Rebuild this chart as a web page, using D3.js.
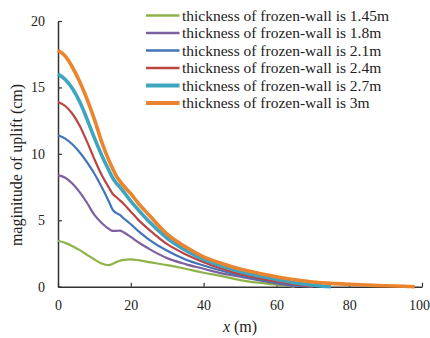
<!DOCTYPE html>
<html>
<head>
<meta charset="utf-8">
<script src="https://cdn.jsdelivr.net/npm/d3@7"></script>
<style>
  body { margin: 0; background: #fff; }
</style>
</head>
<body>
<script>
// x positions (m) shared by all series
var xs = [0, 2, 4, 6, 8, 10, 12, 14, 15, 16, 17, 18, 20, 22, 25, 30, 35, 40, 45, 50, 55, 60, 65, 70, 75, 80, 85, 90, 95, 98];

var names = ["thickness of frozen-wall is 1.45m", "thickness of frozen-wall is 1.8m",
  "thickness of frozen-wall is 2.1m", "thickness of frozen-wall is 2.4m",
  "thickness of frozen-wall is 2.7m", "thickness of frozen-wall is 3m"];

// uplift (cm), null = curve already ended
var w145 = [3.46, 3.3, 3.05, 2.75, 2.4, 2.05, 1.75, 1.63, 1.72, 1.85, 1.95, 2.02, 2.05, 2.0, 1.85, 1.62, 1.35, 1.05, 0.8, 0.5, 0.3, 0.15, 0.0, null, null, null, null, null, null, null];
var w18 = [8.4, 8.2, 7.75, 7.1, 6.3, 5.4, 4.8, 4.35, 4.2, 4.2, 4.22, 4.1, 3.75, 3.35, 2.85, 2.15, 1.7, 1.35, 1.0, 0.75, 0.5, 0.25, 0.0, null, null, null, null, null, null, null];
var w21 = [11.4, 11.15, 10.7, 10.1, 9.35, 8.5, 7.5, 6.4, 5.8, 5.55, 5.4, 5.15, 4.7, 4.2, 3.55, 2.7, 2.05, 1.6, 1.2, 0.85, 0.55, 0.3, 0.1, 0.0, null, null, null, null, null, null];
var w24 = [13.9, 13.6, 13.0, 12.1, 10.9, 9.6, 8.4, 7.45, 7.0, 6.75, 6.5, 6.25, 5.65, 5.05, 4.3, 3.2, 2.45, 1.85, 1.35, 0.95, 0.65, 0.4, 0.18, 0.0, null, null, null, null, null, null];
var w27 = [16.0, 15.6, 14.9, 13.9, 12.6, 11.2, 9.9, 8.75, 8.2, 7.8, 7.5, 7.15, 6.45, 5.8, 4.9, 3.65, 2.75, 2.05, 1.55, 1.15, 0.82, 0.55, 0.3, 0.12, 0.0, null, null, null, null, null];
var w30 = [17.8, 17.35, 16.5, 15.4, 14.1, 12.6, 10.9, 9.5, 8.9, 8.35, 7.95, 7.6, 7.0, 6.3, 5.4, 3.95, 3.0, 2.25, 1.75, 1.33, 1.02, 0.75, 0.52, 0.36, 0.25, 0.18, 0.12, 0.07, 0.03, 0.0];

var xTicks = [0, 20, 40, 60, 80, 100];
var yTicks = [0, 5, 10, 15, 20];

var colors = ["#8db349", "#7d60a0", "#4275b8", "#bb4542", "#3ea5c0", "#ea842f"];
var widths = [2.2, 2.2, 2.2, 2.2, 3.6, 3.6];

var W = 430, H = 338;
var serif = "'Liberation Serif', 'Times New Roman', serif";
var svg = d3.select("body").append("svg").attr("width", W).attr("height", H)
  .style("font-family", serif);

var x = d3.scaleLinear().domain([0, 100]).range([58, 422]);
var y = d3.scaleLinear().domain([0, 20]).range([286.7, 21]);

// axes, ticks pointing inwards
var xAxis = svg.append("g")
  .attr("transform", "translate(0,286.7)")
  .call(d3.axisBottom(x).tickValues(xTicks).tickSizeInner(-4).tickSizeOuter(0).tickPadding(13));
var yAxis = svg.append("g")
  .attr("transform", "translate(58,0)")
  .call(d3.axisLeft(y).tickValues(yTicks).tickSizeInner(-4).tickSizeOuter(0).tickPadding(13));

[xAxis, yAxis].forEach(function(a) {
  a.select(".domain").attr("stroke", "#333").attr("stroke-width", 1.5);
  a.selectAll(".tick line").attr("stroke", "#333").attr("stroke-width", 1.2);
  a.selectAll("text").style("font-family", serif).style("font-size", "14px").attr("fill", "#222");
});
// keep the last x label inside the window
xAxis.selectAll(".tick text").filter(function(d) { return d === 100; }).attr("dx", -3);

var series = [w145, w18, w21, w24, w27, w30];

var line = d3.line()
  .defined(function(d) { return d[1] != null; })
  .x(function(d) { return x(d[0]); })
  .y(function(d) { return y(d[1]); })
  .curve(d3.curveMonotoneX);

series.forEach(function(s, i) {
  var pts = xs.map(function(v, j) { return [v, s[j]]; });
  svg.append("path")
    .datum(pts)
    .attr("fill", "none")
    .attr("stroke", colors[i])
    .attr("stroke-width", widths[i])
    .attr("stroke-linejoin", "round")
    .attr("d", line);
});

// legend
var leg = svg.append("g");
names.forEach(function(n, i) {
  var ly = 15.5 + i * 17.5;
  leg.append("line")
    .attr("x1", 146).attr("x2", 179.5)
    .attr("y1", ly).attr("y2", ly)
    .attr("stroke", colors[i])
    .attr("stroke-width", i > 3 ? 4 : 2.6);
  leg.append("text")
    .attr("x", 182).attr("y", ly + 5)
    .attr("fill", "#222")
    .style("font-family", serif)
    .style("font-size", "15.5px")
    .text(n);
});

// axis titles
svg.append("text")
  .attr("transform", "translate(22,165) rotate(-90)")
  .attr("text-anchor", "middle")
  .attr("fill", "#222")
  .style("font-family", serif)
  .style("font-size", "16px")
  .text("maginitude of uplift (cm)");

var xl = svg.append("text")
  .attr("x", 240).attr("y", 332)
  .attr("text-anchor", "middle")
  .attr("fill", "#222")
  .style("font-family", serif)
  .style("font-size", "16px");
xl.append("tspan").style("font-style", "italic").text("x");
xl.append("tspan").text(" (m)");
</script>
</body>
</html>
